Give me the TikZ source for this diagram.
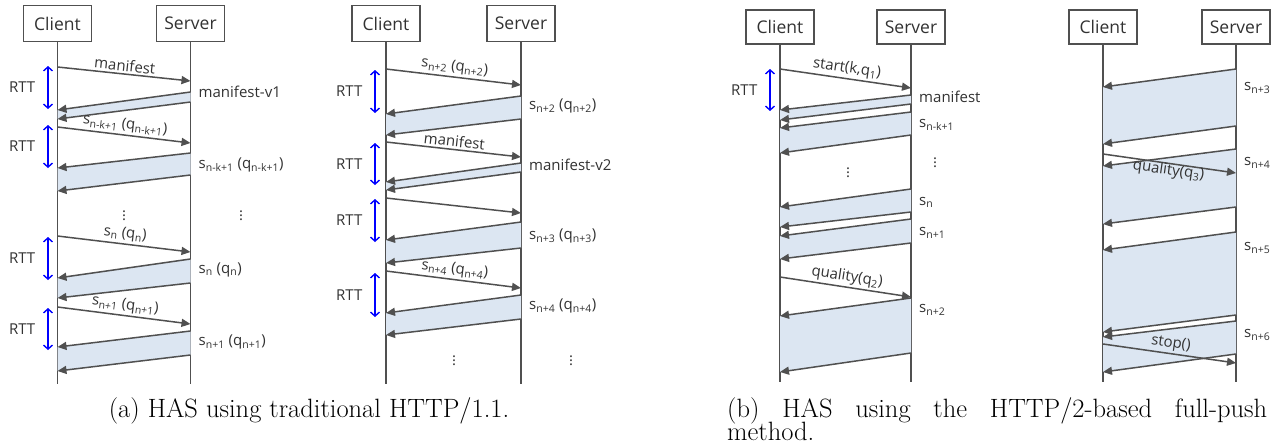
\documentclass[tikz,border=0pt]{standalone}
\usepackage{fontspec}
\newfontfamily\diafont{Open Sans}
\usetikzlibrary{arrows.meta,positioning}
\definecolor{ink}{RGB}{80,80,80}
\definecolor{txt}{RGB}{50,50,50}
\definecolor{seg}{RGB}{220,230,242}
\newcommand{\sg}[1]{s\textsubscript{#1}}
\newcommand{\sq}[1]{s\textsubscript{#1} (q\textsubscript{#1})}
\tikzset{
    actor/.style={
        draw=ink,
        line width=1.6pt,
        minimum width=68pt,
        minimum height=36pt,
        inner sep=0pt,
        text=txt,
        font=\diafont\fontsize{17.5}{20}\selectfont
    },
    life/.style={ink, line width=1.5pt},
    % server -> client and client -> server messages
    msg/.style={
        ink,
        line width=1.5pt,
        -{Triangle[length=9pt, width=8pt]}
    },
    rtt/.style={
        blue,
        line width=1.4pt,
        {Straight Barb[length=4pt, width=9pt]}-{Straight Barb[length=4pt, width=9pt]}
    },
    lab/.style={text=txt, inner sep=2pt, font=\diafont\fontsize{15}{18}\selectfont},
    captext/.style={inner sep=0pt, font=\fontsize{26.5}{30}\selectfont}
}

\begin{document}
\begin{tikzpicture}[x=1pt, y=-1pt]
   \useasboundingbox (0,0) rectangle (1279,445);
   % (a) first exchange
   \node[actor] (c1) at (57.5,23.5) {Client};
   \node[actor] (s1) at (190.5,23.5) {Server};
   \draw[life] (c1.south) -- (c1 |- 0,384);
   \draw[life] (s1.south) -- (s1 |- 0,384);
   \fill[seg] (s1 |- 0,92) -- (c1 |- 0,110) -- (c1 |- 0,119) -- (s1 |- 0,102) -- cycle;
   \draw[msg] (s1 |- 0,92) -- (c1 |- 0,110);
   \draw[msg] (s1 |- 0,102) -- (c1 |- 0,119);
   \node[lab, right=6pt] at (s1 |- 0,92) {manifest-v1};
   \fill[seg] (s1 |- 0,153) -- (c1 |- 0,168) -- (c1 |- 0,191) -- (s1 |- 0,175) -- cycle;
   \draw[msg] (s1 |- 0,153) -- (c1 |- 0,168);
   \draw[msg] (s1 |- 0,175) -- (c1 |- 0,191);
   \node[lab, right=6pt] at (s1 |- 0,165) {\sq{n-k+1}};
   \fill[seg] (s1 |- 0,259) -- (c1 |- 0,278) -- (c1 |- 0,298) -- (s1 |- 0,283) -- cycle;
   \draw[msg] (s1 |- 0,259) -- (c1 |- 0,278);
   \draw[msg] (s1 |- 0,283) -- (c1 |- 0,298);
   \node[lab, right=6pt] at (s1 |- 0,270) {\sq{n}};
   \fill[seg] (s1 |- 0,331) -- (c1 |- 0,347) -- (c1 |- 0,371) -- (s1 |- 0,355) -- cycle;
   \draw[msg] (s1 |- 0,331) -- (c1 |- 0,347);
   \draw[msg] (s1 |- 0,355) -- (c1 |- 0,371);
   \node[lab, right=6pt] at (s1 |- 0,342) {\sq{n+1}};
   \draw[msg] (c1 |- 0,67) -- node[lab, above, sloped] {manifest} (s1 |- 0,81);
   \draw[msg] (c1 |- 0,127) -- node[lab, above, sloped] {\sq{n-k+1}} (s1 |- 0,143);
   \draw[msg] (c1 |- 0,236) -- node[lab, above, sloped] {\sq{n}} (s1 |- 0,252);
   \draw[msg] (c1 |- 0,307) -- node[lab, above, sloped] {\sq{n+1}} (s1 |- 0,324);
   \draw[rtt] (48,66) -- node[lab, left=10pt] {RTT} (48,109);
   \draw[rtt] (48,125) -- node[lab, left=10pt] {RTT} (48,168);
   \draw[rtt] (48,237) -- node[lab, left=10pt] {RTT} (48,280);
   \draw[rtt] (48,308) -- node[lab, left=10pt] {RTT} (48,350);
   \node[lab] at (124,213) {$\vdots$};
   \node[lab] at (241,213) {$\vdots$};

   % (a) second exchange
   \node[actor] (c2) at (386,23.5) {Client};
   \node[actor] (s2) at (521,23.5) {Server};
   \draw[life] (c2.south) -- (c2 |- 0,384);
   \draw[life] (s2.south) -- (s2 |- 0,384);
   \fill[seg] (s2 |- 0,96) -- (c2 |- 0,114) -- (c2 |- 0,135) -- (s2 |- 0,119) -- cycle;
   \draw[msg] (s2 |- 0,96) -- (c2 |- 0,114);
   \draw[msg] (s2 |- 0,119) -- (c2 |- 0,135);
   \node[lab, right=6pt] at (s2 |- 0,106) {\sq{n+2}};
   \fill[seg] (s2 |- 0,163) -- (c2 |- 0,182) -- (c2 |- 0,190) -- (s2 |- 0,172) -- cycle;
   \draw[msg] (s2 |- 0,163) -- (c2 |- 0,182);
   \draw[msg] (s2 |- 0,172) -- (c2 |- 0,190);
   \node[lab, right=6pt] at (s2 |- 0,165) {manifest-v2};
   \fill[seg] (s2 |- 0,222) -- (c2 |- 0,240) -- (c2 |- 0,263) -- (s2 |- 0,248) -- cycle;
   \draw[msg] (s2 |- 0,222) -- (c2 |- 0,240);
   \draw[msg] (s2 |- 0,248) -- (c2 |- 0,263);
   \node[lab, right=6pt] at (s2 |- 0,236) {\sq{n+3}};
   \fill[seg] (s2 |- 0,295) -- (c2 |- 0,313) -- (c2 |- 0,335) -- (s2 |- 0,319) -- cycle;
   \draw[msg] (s2 |- 0,295) -- (c2 |- 0,313);
   \draw[msg] (s2 |- 0,319) -- (c2 |- 0,335);
   \node[lab, right=6pt] at (s2 |- 0,306) {\sq{n+4}};
   \draw[msg] (c2 |- 0,69) -- node[lab, above, sloped] {\sq{n+2}} (s2 |- 0,85);
   \draw[msg] (c2 |- 0,142) -- node[lab, above, sloped] {manifest} (s2 |- 0,157);
   \draw[msg] (c2 |- 0,198) -- (s2 |- 0,213);
   \draw[msg] (c2 |- 0,271) -- node[lab, above, sloped] {\sq{n+4}} (s2 |- 0,288);
   \draw[rtt] (375,70) -- node[lab, left=10pt] {RTT} (375,113);
   \draw[rtt] (375,143) -- node[lab, left=10pt] {RTT} (375,185);
   \draw[rtt] (375,199) -- node[lab, left=10pt] {RTT} (375,242);
   \draw[rtt] (375,273) -- node[lab, left=10pt] {RTT} (375,317);
   \node[lab] at (454,358) {$\vdots$};
   \node[lab] at (571,358) {$\vdots$};
   \node[captext, anchor=base] (capa) at (309,417) {(a) HAS using traditional HTTP/1.1.};

   % (b) full push
   \node[actor, minimum height=34pt] (c3) at (780,27) {Client};
   \node[actor, minimum height=34pt] (s3) at (911,27) {Server};
   \draw[life] (c3.south) -- (c3 |- 0,382);
   \draw[life] (s3.south) -- (s3 |- 0,382);
   \fill[seg] (s3 |- 0,95) -- (c3 |- 0,110) -- (c3 |- 0,120) -- (s3 |- 0,104) -- cycle;
   \draw[msg] (s3 |- 0,95) -- (c3 |- 0,110);
   \draw[msg] (s3 |- 0,104) -- (c3 |- 0,120);
   \node[lab, right=6pt] at (s3 |- 0,97) {manifest};
   \fill[seg] (s3 |- 0,112) -- (c3 |- 0,128) -- (c3 |- 0,153) -- (s3 |- 0,135) -- cycle;
   \draw[msg] (s3 |- 0,112) -- (c3 |- 0,128);
   \draw[msg] (s3 |- 0,135) -- (c3 |- 0,153);
   \node[lab, right=6pt] at (s3 |- 0,125) {\sg{n-k+1}};
   \fill[seg] (s3 |- 0,189) -- (c3 |- 0,207) -- (c3 |- 0,227) -- (s3 |- 0,212) -- cycle;
   \draw[msg] (s3 |- 0,189) -- (c3 |- 0,207);
   \draw[msg] (s3 |- 0,212) -- (c3 |- 0,227);
   \node[lab, right=6pt] at (s3 |- 0,202) {\sg{n}};
   \fill[seg] (s3 |- 0,219) -- (c3 |- 0,236) -- (c3 |- 0,259) -- (s3 |- 0,243) -- cycle;
   \draw[msg] (s3 |- 0,219) -- (c3 |- 0,236);
   \draw[msg] (s3 |- 0,243) -- (c3 |- 0,259);
   \node[lab, right=6pt] at (s3 |- 0,233) {\sg{n+1}};
   \fill[seg] (s3 |- 0,298) -- (c3 |- 0,316) -- (c3 |- 0,372) -- (s3 |- 0,353) -- cycle;
   \draw[msg] (s3 |- 0,298) -- (c3 |- 0,316);
   \draw[msg] (s3 |- 0,353) -- (c3 |- 0,372);
   \node[lab, right=6pt] at (s3 |- 0,310) {\sg{n+2}};
   \draw[msg] (c3 |- 0,69) -- node[lab, above, sloped] {start(k,q\textsubscript{1})} (s3 |- 0,88);
   \draw[msg] (c3 |- 0,277) -- node[lab, above, sloped] {quality(q\textsubscript{2})} (s3 |- 0,297);
   \draw[rtt] (770,69) -- node[lab, left=10pt] {RTT} (770,111);
   \node[lab] at (848,170) {$\vdots$};
   \node[lab] at (935,160) {$\vdots$};

   \node[actor, minimum height=34pt] (c4) at (1103,27) {Client};
   \node[actor, minimum height=34pt] (s4) at (1236,27) {Server};
   \draw[life] (c4.south) -- (c4 |- 0,382);
   \draw[life] (s4.south) -- (s4 |- 0,382);
   \fill[seg] (s4 |- 0,69) -- (c4 |- 0,87) -- (c4 |- 0,144) -- (s4 |- 0,126) -- cycle;
   \draw[msg] (s4 |- 0,69) -- (c4 |- 0,87);
   \draw[msg] (s4 |- 0,126) -- (c4 |- 0,144);
   \node[lab, right=6pt] at (s4 |- 0,88) {\sg{n+3}};
   \fill[seg] (s4 |- 0,149) -- (c4 |- 0,166) -- (c4 |- 0,224) -- (s4 |- 0,207) -- cycle;
   \draw[msg] (s4 |- 0,149) -- (c4 |- 0,166);
   \draw[msg] (s4 |- 0,207) -- (c4 |- 0,224);
   \node[lab, right=6pt] at (s4 |- 0,163) {\sg{n+4}};
   \fill[seg] (s4 |- 0,232) -- (c4 |- 0,250) -- (c4 |- 0,332) -- (s4 |- 0,315) -- cycle;
   \draw[msg] (s4 |- 0,232) -- (c4 |- 0,250);
   \draw[msg] (s4 |- 0,315) -- (c4 |- 0,332);
   \node[lab, right=6pt] at (s4 |- 0,248) {\sg{n+5}};
   \fill[seg] (s4 |- 0,321) -- (c4 |- 0,337) -- (c4 |- 0,372) -- (s4 |- 0,354) -- cycle;
   \draw[msg] (s4 |- 0,321) -- (c4 |- 0,337);
   \draw[msg] (s4 |- 0,354) -- (c4 |- 0,372);
   \node[lab, right=6pt] at (s4 |- 0,335) {\sg{n+6}};
   \draw[msg] (c4 |- 0,154) -- node[lab, below=-3pt, sloped] {quality(q\textsubscript{3})} (s4 |- 0,173);
   \draw[msg] (c4 |- 0,344) -- node[lab, above, sloped] {stop()} (s4 |- 0,363);
   \node[captext, anchor=base west] (capb) at (727,417) {\makebox[540pt][s]{(b) HAS using the HTTP/2-based full-push}};
   \node[captext, anchor=base west] (capc) at (727,440) {method.};
\end{tikzpicture}
\end{document}
